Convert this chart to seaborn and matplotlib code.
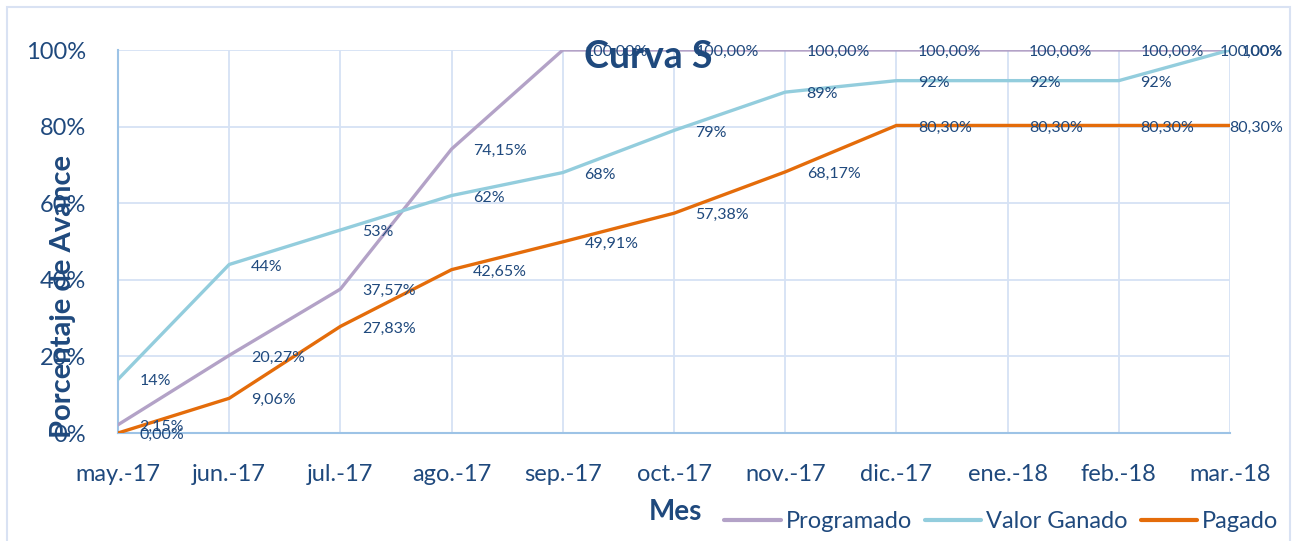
import matplotlib
matplotlib.use("Agg")
import matplotlib.pyplot as plt
import seaborn as sns
import pandas as pd
from matplotlib.patches import Rectangle
from matplotlib.lines import Line2D

meses = ["may.-17", "jun.-17", "jul.-17", "ago.-17", "sep.-17", "oct.-17",
         "nov.-17", "dic.-17", "ene.-18", "feb.-18", "mar.-18"]
programado = [2.15, 20.27, 37.57, 74.15, 100.00, 100.00, 100.00, 100.00, 100.00, 100.00, 100.00]
valor_ganado = [14, 44, 53, 62, 68, 79, 89, 92, 92, 92, 100]
pagado = [0.00, 9.06, 27.83, 42.65, 49.91, 57.38, 68.17, 80.30, 80.30, 80.30, 80.30]
series_names = ["Programado", "Valor Ganado", "Pagado"]
colors = ["#B3A2C7", "#93CDDD", "#E46C0A"]
yticks = [0, 20, 40, 60, 80, 100]
ytick_labels = ["0%", "20%", "40%", "60%", "80%", "100%"]

TXT = "#1F497D"

sns.set_theme(style="white")
plt.rcParams["font.family"] = ["Lato", "DejaVu Sans"]

rows = []
for name, vals in zip(series_names, [programado, valor_ganado, pagado]):
    for i, (m, v) in enumerate(zip(meses, vals)):
        rows.append({"idx": i, "Mes": m, "valor": v, "serie": name})
df = pd.DataFrame(rows)

fig = plt.figure(figsize=(12.94, 5.41), dpi=100)
ax = fig.add_axes([118 / 1294, 1 - 433 / 541, (1230 - 118) / 1294, (433 - 50) / 541])

# outer frame of chart area
fig.patches.append(Rectangle((7 / 1294, -0.05), (1290 - 7) / 1294, 1.05 - 7 / 541,
                             transform=fig.transFigure, fill=False,
                             edgecolor="#D9E2F3", linewidth=1.5, zorder=0))

sns.lineplot(data=df, x="idx", y="valor", hue="serie", palette=colors,
             hue_order=series_names, linewidth=2.4, ax=ax, legend=False, zorder=3)

ax.set_xlabel("")
ax.set_ylabel("")
ax.set_xlim(0, len(meses) - 1)
ax.set_ylim(0, 100)
ax.set_yticks(yticks)
ax.set_yticklabels(ytick_labels)
ax.set_xticks(range(len(meses)))
ax.set_xticklabels(meses)
ax.tick_params(axis="y", labelsize=17, colors=TXT, pad=23, length=0)
ax.tick_params(axis="x", labelsize=17, colors=TXT, pad=22, length=0)
ax.grid(True, color="#D6E2F4", linewidth=1.3, zorder=0)
ax.set_axisbelow(True)
for s in ["top", "right"]:
    ax.spines[s].set_visible(False)
for s in ["left", "bottom"]:
    ax.spines[s].set_color("#9DC3E6")
    ax.spines[s].set_linewidth(1.5)

# data labels
for name, vals in zip(series_names, [programado, valor_ganado, pagado]):
    for i, v in enumerate(vals):
        if name == "Valor Ganado":
            txt = f"{v:.0f}%"
        else:
            txt = f"{v:.2f}%".replace(".", ",")
        if i == len(vals) - 1:
            ax.annotate(txt, (i, v), xytext=(38, -1.5), textcoords="offset points",
                        ha="right", va="center", fontsize=11.5, color=TXT, zorder=5,
                        annotation_clip=False)
        else:
            ax.annotate(txt, (i, v), xytext=(15.5, -1.5), textcoords="offset points",
                        ha="left", va="center", fontsize=11.5, color=TXT, zorder=5,
                        annotation_clip=False)

fig.text(648 / 1294, 1 - 57 / 541, "Curva S", ha="center", va="center",
         fontsize=27, fontweight="bold", color=TXT, zorder=10)
fig.text(63 / 1294, 1 - 297 / 541, "Porcentaje de Avance", ha="center", va="center",
         rotation=90, fontsize=21, fontweight="bold", color=TXT, zorder=10)
fig.text(675 / 1294, 1 - 512 / 541, "Mes", ha="center", va="center",
         fontsize=20, fontweight="bold", color=TXT)

handles = [Line2D([0], [0], color=c, linewidth=3) for c in colors]
leg = fig.legend(handles, series_names, loc="center left",
                 bbox_to_anchor=(724 / 1294, 1 - 522 / 541), ncol=3, frameon=False,
                 fontsize=17, handlelength=2.4, handletextpad=0.2, columnspacing=0.55,
                 borderaxespad=0, borderpad=0)
for t in leg.get_texts():
    t.set_color(TXT)

fig.savefig("out.png", dpi=100)
